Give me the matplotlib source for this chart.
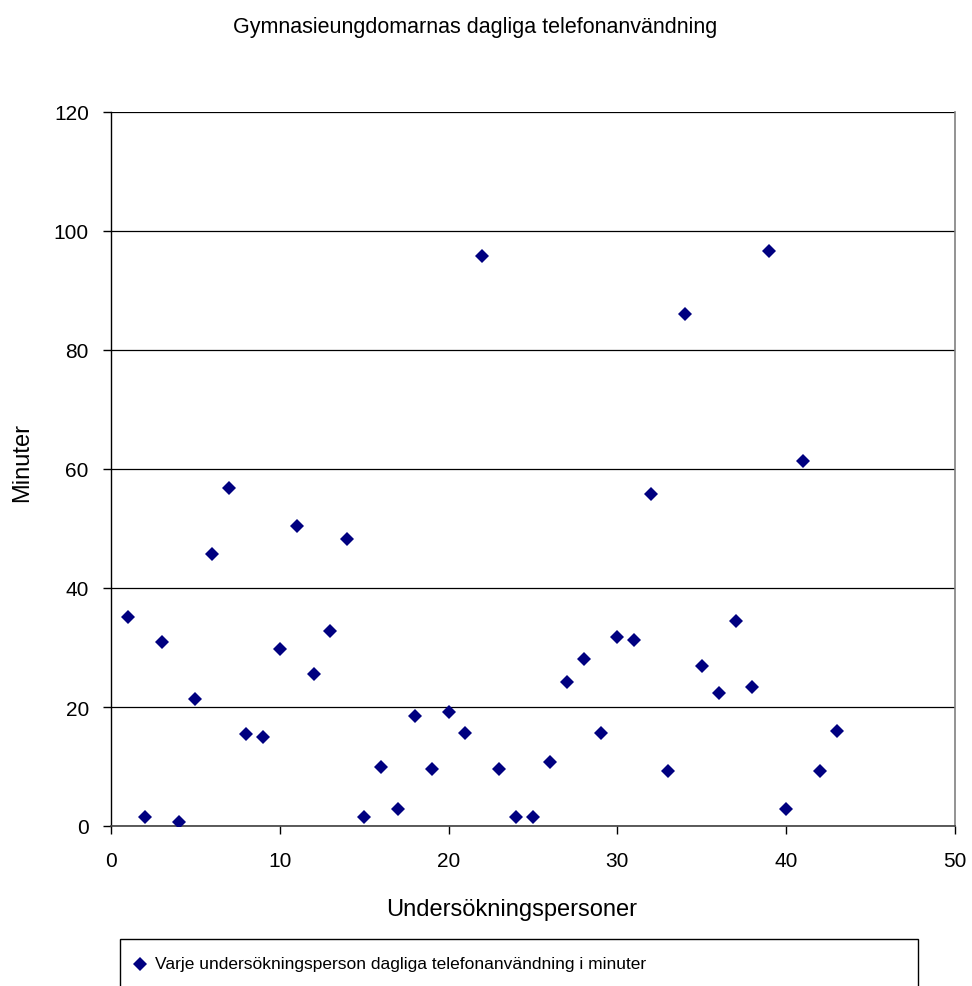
import matplotlib
matplotlib.use("Agg")
import matplotlib.pyplot as plt
from matplotlib.patches import Rectangle
from matplotlib.lines import Line2D

plt.rcParams['font.family'] = ['Liberation Sans', 'DejaVu Sans']

# Data
persons = list(range(1, 44))
minutes = [35.1, 1.5, 30.9, 0.7, 21.3, 45.7, 56.8, 15.4, 14.9, 29.8,
           50.4, 25.5, 32.7, 48.3, 1.5, 9.9, 2.9, 18.5, 9.6, 19.2,
           15.6, 95.8, 9.6, 1.5, 1.5, 10.7, 24.2, 28.1, 15.6, 31.7,
           31.3, 55.8, 9.2, 86.0, 26.9, 22.4, 34.5, 23.4, 96.6, 2.8,
           61.4, 9.2, 15.9]

title = "Gymnasieungdomarnas dagliga telefonanvändning"
xlabel = "Undersökningspersoner"
ylabel = "Minuter"
legend_label = "Varje undersökningsperson dagliga telefonanvändning i minuter"
xticks = [0, 10, 20, 30, 40, 50]
yticks = [0, 20, 40, 60, 80, 100, 120]

navy = "#000080"

fig = plt.figure(figsize=(9.72, 9.87), dpi=100)
ax = fig.add_axes([111/972, 1 - 827/987, 844/972, 714/987])

ax.plot(persons, minutes, linestyle="none", marker="D", markersize=7.5,
        color=navy, markeredgewidth=0, zorder=3)

ax.set_xlim(0, 50)
ax.set_ylim(0, 120)
ax.set_xticks(xticks)
ax.set_yticks(yticks)
ax.yaxis.grid(True, color="black", linewidth=0.9)
ax.set_axisbelow(True)

ax.spines["top"].set_visible(False)
ax.spines["right"].set_color("#808080")
ax.spines["right"].set_linewidth(1.2)
ax.spines["left"].set_color("black")
ax.spines["bottom"].set_color("#404040")
ax.spines["left"].set_linewidth(1)
ax.spines["bottom"].set_linewidth(1.2)

ax.tick_params(axis="both", direction="out", length=6, width=1,
               labelsize=15, color="black")
ax.tick_params(axis="y", pad=10)
ax.tick_params(axis="x", pad=12)

# axis titles and chart title placed in figure pixels like the reference
fig.text(512/972, 1 - 910/987, xlabel, fontsize=17, ha="center", va="center")
fig.text(22/972, 1 - 463/987, ylabel, fontsize=17, ha="center", va="center",
         rotation=90)
fig.text(475/972, 1 - 28/987, title, fontsize=15.5, ha="center", va="center")

# legend box, cut off at the bottom of the image as in the reference
fig.patches.append(Rectangle((120/972, -0.05), (918 - 120)/972, 0.05 + 47/987,
                             transform=fig.transFigure, facecolor="white",
                             edgecolor="black", linewidth=1))
fig.lines.append(Line2D([140/972], [1 - 965/987], transform=fig.transFigure,
                        marker="D", markersize=7, color=navy,
                        markeredgewidth=0, linestyle="none"))
fig.text(155/972, 1 - 965/987, legend_label, fontsize=12.5, ha="left",
         va="center")

fig.savefig("out.png", dpi=100)
